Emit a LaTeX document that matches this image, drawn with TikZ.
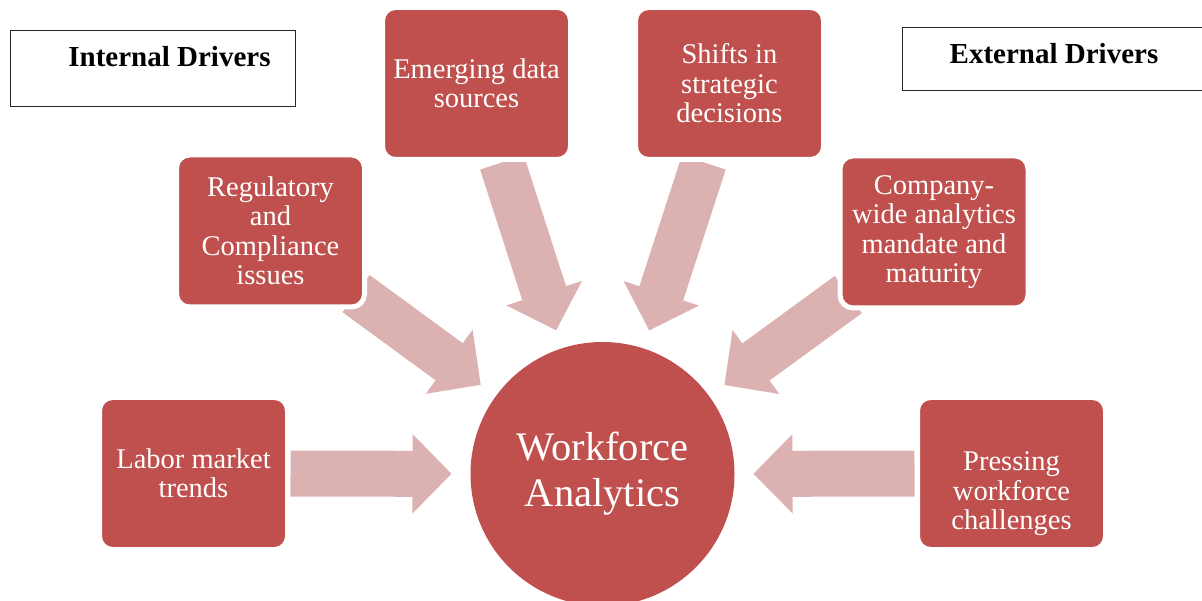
\documentclass[tikz,border=0pt]{standalone}
\usepackage{fontspec}
\setmainfont{Liberation Serif}
\usetikzlibrary{arrows.meta,backgrounds}

\definecolor{drvred}{HTML}{C0504D}
\definecolor{drvpink}{HTML}{DBB2B1}

\begin{document}
\begin{tikzpicture}[x=1pt,y=-1pt,
    driver node/.style={rectangle,rounded corners=13pt,fill=drvred,draw=white,line width=5pt,
      minimum width=188pt,minimum height=152pt,text=white,align=center,
      font=\fontsize{28.5}{29.5}\selectfont},
    title node/.style={rectangle,draw=black!85,line width=1pt,fill=white,text height=20pt,
      font=\bfseries\fontsize{29}{30}\selectfont},
    hub node/.style={circle,fill=drvred,minimum size=264pt,text=white,align=center,
      font=\fontsize{40.5}{46}\selectfont},
    push/.style={color=drvpink,line width=46pt,shorten >=151pt,
      -{Triangle[length=39pt 0,width=79pt 0,line width=2pt 0]}}]

  \useasboundingbox (0,0) rectangle (1202,601);

  \node[hub node] (wa) at (602.5,474) {Workforce\\Analytics};

  \node[driver node] (labor)  at (193.5,473.5) {Labor market\\trends};
  \node[driver node] (reg)    at (270.5,231)   {Regulatory\\and\\Compliance\\issues};
  \node[driver node] (emerg)  at (476.5,83.5)  {Emerging data\\sources};
  \node[driver node] (shifts) at (729.5,83.5)  {Shifts in\\strategic\\decisions};
  \node[driver node] (comp)   at (934,232)     {Company-\\wide analytics\\mandate and\\maturity};
  \node[driver node] (press)  at (1011.5,473.5) {\\[30pt]Pressing\\workforce\\challenges};

  \node[title node,minimum width=285pt,minimum height=76pt,text depth=25pt] (internal)
    at (152.5,69) {\hspace*{34pt}Internal Drivers};
  \node[title node,minimum width=304pt,minimum height=63pt,text depth=12pt] (external)
    at (1054,59.5) {External Drivers};

  % block arrows run under the boxes
  \begin{pgfonlayer}{background}
    \path[push] (labor.center)  edge [shorten <=97pt]  (wa.center)
                (reg.center)    edge [shorten <=106pt] (wa.center)
                (emerg.center)  edge [shorten <=83pt]  (wa.center)
                (shifts.center) edge [shorten <=83pt]  (wa.center)
                (comp.center)   edge [shorten <=106pt] (wa.center)
                (press.center)  edge [shorten <=97pt]  (wa.center);
  \end{pgfonlayer}

\end{tikzpicture}
\end{document}
